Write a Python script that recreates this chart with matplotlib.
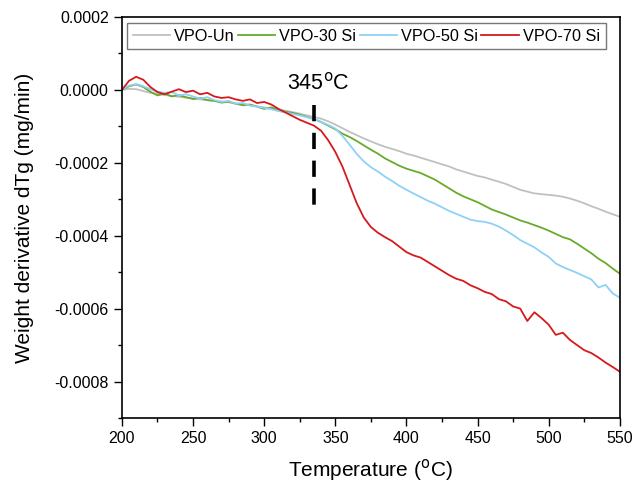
import numpy as np
import matplotlib
matplotlib.use("Agg")
import matplotlib.pyplot as plt
from matplotlib.ticker import MultipleLocator, FormatStrFormatter

plt.rcParams["font.family"] = ["Liberation Sans", "DejaVu Sans"]

# temperature grid (deg C)
temperature = np.arange(200, 551, 5)

# dTg values in units of 1e-5 mg/min
vpo_un = [0.0, 0.3, 0.2, -0.3, -0.8, -1.1, -1.4, -1.6, -1.9, -2.1,
          -2.3, -2.6, -2.8, -3.0, -3.2, -3.4, -3.7, -3.9, -4.2, -4.5,
          -4.8, -5.1, -5.4, -5.7, -6.1, -6.5, -7.0, -7.4, -7.9, -8.6,
          -9.5, -10.5, -11.5, -12.4, -13.3, -14.1, -14.9, -15.6, -16.2, -16.8,
          -17.5, -18.0, -18.6, -19.2, -19.8, -20.4, -21.0, -21.8, -22.4, -23.0,
          -23.6, -24.0, -24.6, -25.2, -25.8, -26.6, -27.4, -27.9, -28.4, -28.6,
          -28.8, -29.0, -29.3, -29.8, -30.4, -31.1, -31.9, -32.6, -33.4, -34.1,
          -34.8]
vpo_30 = [0.0, 1.0, 1.5, 0.8, -0.5, -1.5, -1.0, -1.8, -1.4, -2.0,
          -2.5, -2.2, -2.8, -3.0, -3.5, -3.2, -3.8, -4.2, -4.0, -4.6,
          -5.2, -4.8, -5.5, -6.0, -6.3, -6.8, -7.4, -8.0, -8.8, -9.8,
          -10.8, -12.0, -12.9, -14.0, -15.2, -16.4, -17.5, -18.8, -19.8, -20.8,
          -21.6, -22.2, -22.8, -23.7, -24.6, -25.8, -27.0, -28.2, -29.2, -30.0,
          -30.8, -31.8, -32.8, -33.5, -34.2, -35.0, -35.8, -36.4, -37.1, -37.8,
          -38.6, -39.5, -40.4, -41.0, -42.2, -43.5, -44.8, -46.3, -47.5, -49.0,
          -50.4]
vpo_50 = [0.0, 1.2, 1.6, 1.0, 0.2, -0.5, -0.8, -0.6, -1.5, -1.2,
          -1.8, -2.4, -2.0, -2.8, -3.3, -3.0, -3.8, -3.6, -4.3, -4.6,
          -4.9, -5.3, -5.8, -6.2, -6.6, -7.0, -7.5, -8.0, -8.8, -9.6,
          -10.6, -12.6, -15.0, -17.5, -19.6, -21.2, -22.4, -23.8, -25.0, -26.3,
          -27.4, -28.4, -29.4, -30.4, -31.2, -32.2, -33.2, -34.0, -34.8, -35.6,
          -36.0, -36.2, -36.7, -37.5, -38.6, -39.8, -41.2, -42.2, -43.2, -44.6,
          -45.8, -47.6, -48.6, -49.4, -50.2, -51.1, -52.0, -54.2, -53.5, -55.8,
          -57.0]
vpo_70 = [0.0, 2.5, 3.6, 2.8, 0.8, -0.6, -1.2, -0.5, 0.2, -0.6,
          -0.2, -1.2, -0.8, -1.8, -2.2, -2.0, -2.6, -3.0, -2.6, -3.6,
          -3.3, -4.0, -5.2, -6.2, -7.2, -8.2, -9.0, -9.8, -11.2, -13.8,
          -17.0, -21.0, -26.0, -31.0, -35.0, -37.6, -39.2, -40.4, -41.5, -43.0,
          -44.5, -45.4, -46.0, -47.2, -48.4, -49.6, -50.8, -51.8, -52.4, -53.6,
          -54.4, -55.4, -56.0, -57.4, -58.0, -59.4, -60.0, -63.4, -61.0, -62.6,
          -64.4, -67.2, -66.6, -68.6, -70.0, -71.4, -72.2, -73.4, -74.8, -76.0,
          -77.3]

series = [
    ("VPO-Un", vpo_un, "#c0c0c0"),
    ("VPO-30 Si", vpo_30, "#6aaa2a"),
    ("VPO-50 Si", vpo_50, "#8ed1f7"),
    ("VPO-70 Si", vpo_70, "#d7191c"),
]

onset_t = 335
onset_label = "345$^{\\rm o}$C"

fig = plt.figure(figsize=(6.35, 4.86), dpi=100)
ax = fig.add_axes([0.192, 0.140, 0.784, 0.825])

for name, vals, color in series:
    ax.plot(temperature, np.array(vals) * 1e-5, color=color, lw=1.3, label=name)

# onset marker
ax.plot([onset_t, onset_t], [-0.000041, -0.00032], color="black", lw=2.6,
        linestyle=(0, (4.5, 3.2)))
ax.text(onset_t + 3, -0.000012, onset_label, fontsize=15.5, ha="center",
        va="bottom")

ax.set_xlim(200, 550)
ax.set_ylim(-0.0009, 0.0002)
ax.xaxis.set_major_locator(MultipleLocator(50))
ax.xaxis.set_minor_locator(MultipleLocator(25))
ax.yaxis.set_major_locator(MultipleLocator(0.0002))
ax.yaxis.set_minor_locator(MultipleLocator(0.0001))
ax.yaxis.set_major_formatter(FormatStrFormatter("%.4f"))
ax.tick_params(which="major", direction="out", length=6, width=1,
               labelsize=11.5, colors="black")
ax.tick_params(which="minor", direction="out", length=3, width=1)
for sp in ax.spines.values():
    sp.set_linewidth(1.2)

ax.set_xlabel("Temperature ($^{\\rm o}$C)", fontsize=15, labelpad=8)
ax.set_ylabel("Weight derivative dTg (mg/min)", fontsize=15, labelpad=15)

leg = ax.legend(loc="upper left", ncol=4, fontsize=11.7, frameon=True,
                fancybox=False, edgecolor="#555555", handlelength=2.3,
                handletextpad=0.25, columnspacing=0.2, borderpad=0.35,
                borderaxespad=0.0, bbox_to_anchor=(0.01, 0.985))
leg.get_frame().set_linewidth(1.0)

fig.savefig("out.png", dpi=100)
